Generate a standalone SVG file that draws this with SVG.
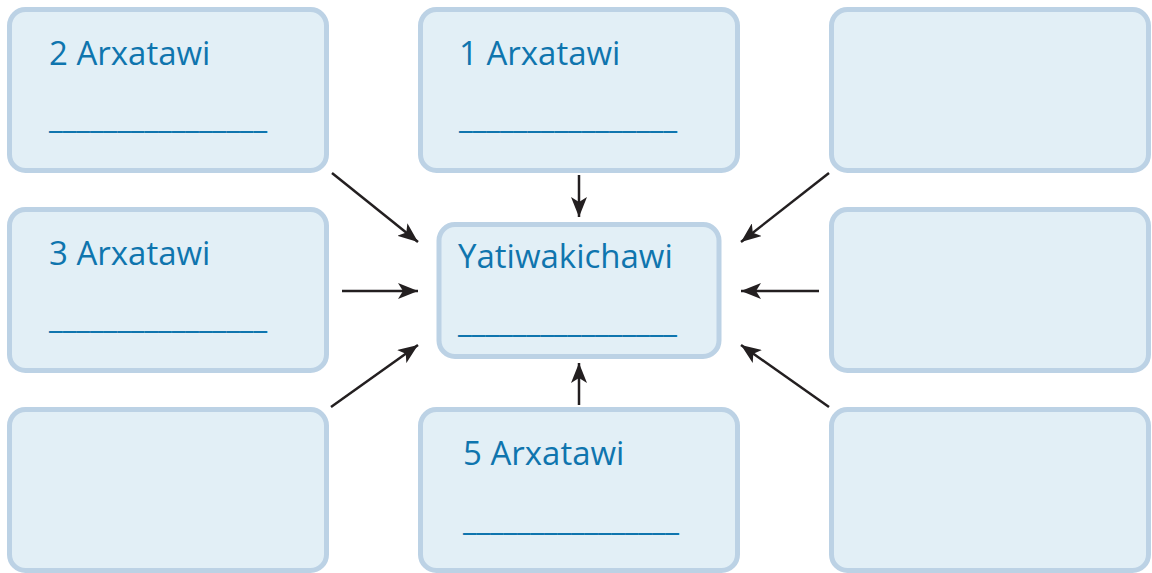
<svg xmlns="http://www.w3.org/2000/svg" width="1152" height="573" viewBox="0 0 1152 573">
<defs>
<style>
.box{fill:#e2eff6;stroke:#bcd2e5;stroke-width:5}
.lbl{font-family:"Open Sans","Noto Sans","DejaVu Sans",sans-serif;font-size:33px;fill:#0f75ae}
.ul{font-family:"Open Sans","Noto Sans","DejaVu Sans",sans-serif;font-size:32px;fill:#0f75ae}
.con{stroke:#231f20;stroke-width:2.5;fill:none;marker-end:url(#ah)}
</style>
<marker id="ah" markerUnits="userSpaceOnUse" markerWidth="22" markerHeight="16" refX="20" refY="8" orient="auto" viewBox="0 0 22 16">
<path d="M0,0 L20,8 L0,16 L5,8 Z" fill="#231f20"/>
</marker>
</defs>
<rect width="1152" height="573" fill="#ffffff"/>
<g id="node-2">
<rect class="box" x="9.5" y="9.5" width="317" height="161" rx="16"/>
<text class="lbl" x="49" y="65">2 Arxatawi</text>
<text class="ul" x="49" y="128" textLength="218" lengthAdjust="spacingAndGlyphs">________________</text>
</g>
<g id="node-1">
<rect class="box" x="420.5" y="9.5" width="317" height="161" rx="16"/>
<text class="lbl" x="459" y="65">1 Arxatawi</text>
<text class="ul" x="459" y="128" textLength="218" lengthAdjust="spacingAndGlyphs">________________</text>
</g>
<g id="node-tr">
<rect class="box" x="831.5" y="9.5" width="317" height="161" rx="16"/>
</g>
<g id="node-3">
<rect class="box" x="9.5" y="209.5" width="317" height="161" rx="16"/>
<text class="lbl" x="49" y="265">3 Arxatawi</text>
<text class="ul" x="49" y="328" textLength="218" lengthAdjust="spacingAndGlyphs">________________</text>
</g>
<g id="node-center">
<rect class="box" x="439" y="224.5" width="280" height="132" rx="16"/>
<text class="lbl" x="458" y="268">Yatiwakichawi</text>
<text class="ul" x="458" y="332" textLength="219" lengthAdjust="spacingAndGlyphs">________________</text>
</g>
<g id="node-mr">
<rect class="box" x="831.5" y="209.5" width="317" height="161" rx="16"/>
</g>
<g id="node-bl">
<rect class="box" x="9.5" y="409.5" width="317" height="161" rx="16"/>
</g>
<g id="node-5">
<rect class="box" x="420.5" y="409.5" width="317" height="161" rx="16"/>
<text class="lbl" x="463" y="465">5 Arxatawi</text>
<text class="ul" x="463" y="530" textLength="216" lengthAdjust="spacingAndGlyphs">________________</text>
</g>
<g id="node-br">
<rect class="box" x="831.5" y="409.5" width="317" height="161" rx="16"/>
</g>
<g id="connectors">
<line class="con" x1="332" y1="173" x2="418" y2="242"/>
<line class="con" x1="342" y1="291" x2="418" y2="291"/>
<line class="con" x1="331" y1="407" x2="418" y2="345"/>
<line class="con" x1="579" y1="175" x2="579" y2="217"/>
<line class="con" x1="579" y1="405" x2="579" y2="363"/>
<line class="con" x1="829" y1="173" x2="741" y2="242"/>
<line class="con" x1="819" y1="291" x2="741" y2="291"/>
<line class="con" x1="829" y1="407" x2="741" y2="345"/>
</g>
</svg>
